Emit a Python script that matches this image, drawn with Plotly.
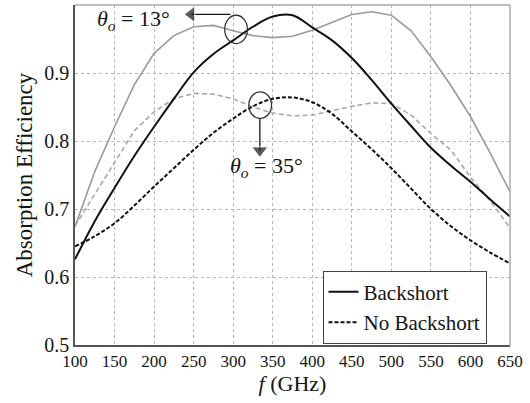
import plotly.graph_objects as go

# Frequencies (GHz)
freq_fine = [100, 125, 150, 175, 200, 225, 250, 275, 300, 325, 350, 375, 400,
             425, 450, 475, 500, 525, 550, 575, 600, 625, 650]

# Backshort, dark (black solid)
bs_dark = [0.626, 0.682, 0.731, 0.778, 0.821, 0.862, 0.901, 0.928, 0.948, 0.968,
           0.983, 0.985, 0.967, 0.948, 0.922, 0.890, 0.855, 0.822, 0.790, 0.764,
           0.740, 0.714, 0.689]
# Backshort, light (gray solid)
bs_light = [0.674, 0.755, 0.821, 0.883, 0.929, 0.955, 0.968, 0.970, 0.962, 0.955,
            0.952, 0.954, 0.963, 0.975, 0.986, 0.990, 0.985, 0.962, 0.924, 0.882,
            0.836, 0.782, 0.725]
# No backshort, dark (black dashed)
nbs_dark = [0.645, 0.660, 0.679, 0.705, 0.733, 0.760, 0.787, 0.812, 0.833, 0.851,
            0.862, 0.864, 0.857, 0.840, 0.814, 0.788, 0.760, 0.730, 0.700, 0.675,
            0.654, 0.636, 0.620]
# No backshort, light (gray dashed)
nbs_light = [0.675, 0.722, 0.768, 0.815, 0.843, 0.862, 0.870, 0.869, 0.862, 0.850,
             0.841, 0.837, 0.838, 0.845, 0.851, 0.856, 0.855, 0.838, 0.811, 0.787,
             0.747, 0.712, 0.672]

x_ticks = [100, 150, 200, 250, 300, 350, 400, 450, 500, 550, 600, 650]
y_ticks = [0.5, 0.6, 0.7, 0.8, 0.9, 1.0]
y_tick_text = ["0.5", "0.6", "0.7", "0.8", "0.9", "1"]

# callout arrows (annotation geometry, GHz / efficiency)
arrow13_x = [296.6, 247.0]
arrow13_y = [0.9863, 0.9863]
arrow35_x = [333.7, 333.7]
arrow35_y = [0.8332, 0.7862]

FONT = "Liberation Serif"
INK = "#151515"

fig = go.Figure()
fig.add_trace(go.Scatter(x=freq_fine, y=bs_light, mode="lines", hoverinfo="skip",
                         line=dict(color="#9a9a9a", width=1.6), showlegend=False))
fig.add_trace(go.Scatter(x=freq_fine, y=nbs_light, mode="lines", hoverinfo="skip",
                         line=dict(color="#a8a8a8", width=1.6, dash="5px,3px"), showlegend=False))
fig.add_trace(go.Scatter(x=freq_fine, y=bs_dark, mode="lines", name="Backshort",
                         line=dict(color="#111111", width=2, shape="spline")))
fig.add_trace(go.Scatter(x=freq_fine, y=nbs_dark, mode="lines", name="No Backshort",
                         line=dict(color="#111111", width=2, dash="4px,2px", shape="spline")))

# callout arrows
fig.add_trace(go.Scatter(x=arrow13_x, y=arrow13_y, mode="lines+markers", showlegend=False,
                         hoverinfo="skip", line=dict(color=INK, width=1.3),
                         marker=dict(symbol="triangle-left", size=[0, 14], color=INK)))
fig.add_trace(go.Scatter(x=arrow35_x, y=arrow35_y, mode="lines+markers", showlegend=False,
                         hoverinfo="skip", line=dict(color=INK, width=1.3),
                         marker=dict(symbol="triangle-down", size=[0, 14], color=INK)))

# ellipses
fig.add_shape(type="circle", xref="x", yref="y", x0=289.3, x1=318.0, y0=0.9433, y1=0.9849,
              line=dict(color="#333333", width=1.3))
fig.add_shape(type="circle", xref="x", yref="y", x0=319.8, x1=348.5, y0=0.8332, y1=0.8722,
              line=dict(color="#333333", width=1.3))
# top/right frame
fig.add_shape(type="line", xref="paper", yref="paper", x0=0, x1=1, y0=1, y1=1,
              line=dict(color="#aaaaaa", width=1.5))
fig.add_shape(type="line", xref="paper", yref="paper", x0=1, x1=1, y0=0, y1=1,
              line=dict(color="#aaaaaa", width=1.5))

# labels
fig.add_annotation(x=174.0, y=0.9775, xref="x", yref="y",
                   text="<i>θ<sub>o</sub></i> = 13°", showarrow=False,
                   font=dict(family=FONT, size=22, color=INK))
fig.add_annotation(x=342, y=0.762, xref="x", yref="y",
                   text="<i>θ<sub>o</sub></i> = 35°", showarrow=False,
                   font=dict(family=FONT, size=22, color=INK))

fig.update_layout(
    width=530, height=403,
    margin=dict(l=75, r=20, t=5, b=58),
    paper_bgcolor="white", plot_bgcolor="white",
    font=dict(family=FONT, color=INK),
    legend=dict(x=0.569, y=0.2185, xanchor="left", yanchor="top",
                bordercolor="#444444", borderwidth=1, bgcolor="white",
                font=dict(family=FONT, size=21, color=INK),
                tracegroupgap=0),
)
fig.update_xaxes(range=[100, 650], tickvals=x_ticks, showgrid=True,
                 gridcolor="#b5b5b5", griddash="dot", gridwidth=1,
                 showline=True, linecolor="#555555", linewidth=1.5,
                 ticks="", tickfont=dict(family=FONT, size=17, color=INK),
                 title=dict(text="<i>f</i> (GHz)", font=dict(family=FONT, size=22, color=INK),
                            standoff=4),
                 zeroline=False)
fig.update_yaxes(range=[0.5, 1.0], tickvals=y_ticks, ticktext=y_tick_text, showgrid=True,
                 gridcolor="#b5b5b5", griddash="dot", gridwidth=1,
                 showline=True, linecolor="#555555", linewidth=1.5,
                 ticks="", tickfont=dict(family=FONT, size=20, color=INK),
                 title=dict(text="Absorption Efficiency", font=dict(family=FONT, size=23, color=INK),
                            standoff=5),
                 zeroline=False)

fig.write_html("out.html")
